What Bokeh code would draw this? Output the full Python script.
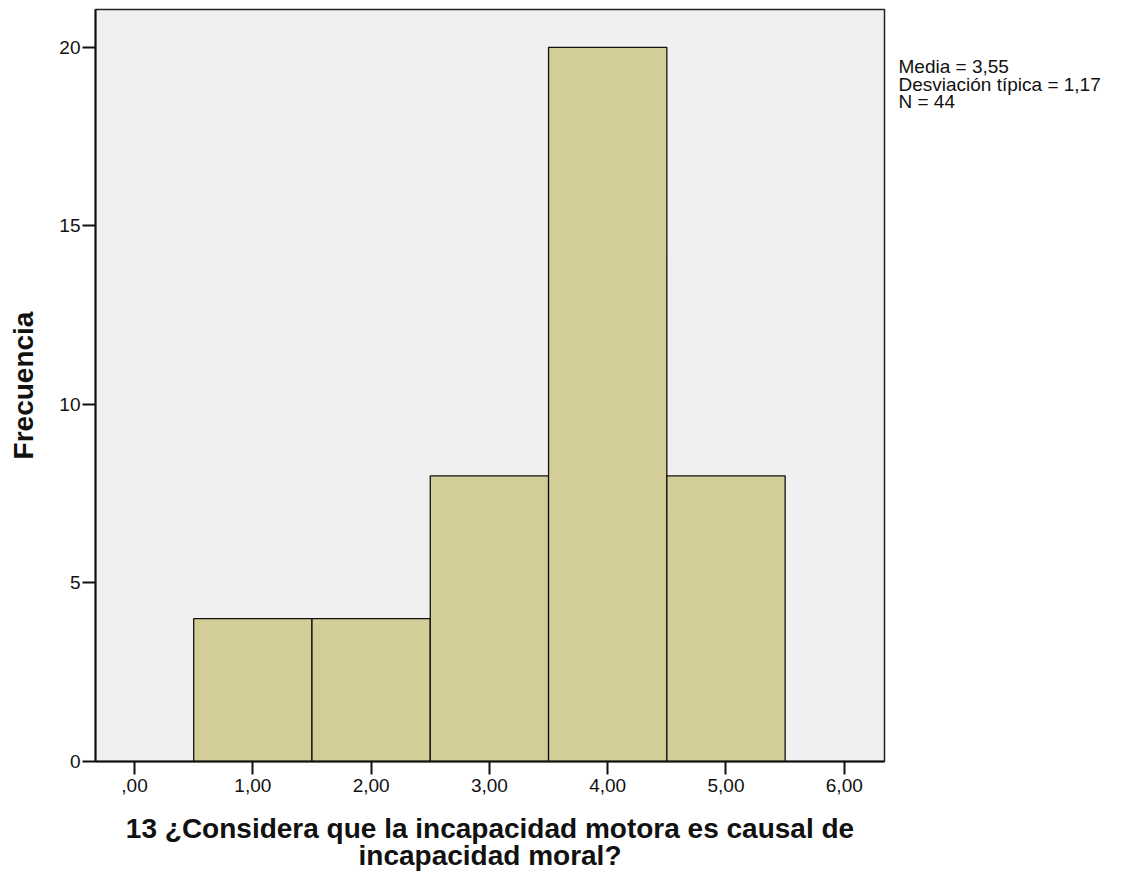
from bokeh.plotting import figure
from bokeh.layouts import row
from bokeh.models import Range1d, FixedTicker, Label, ColumnDataSource
from bokeh.embed import file_html
from bokeh.resources import INLINE

# ---- data ----
categories = [1, 2, 3, 4, 5]
counts = [4, 4, 8, 20, 8]
x_ticks = [0, 1, 2, 3, 4, 5, 6]
x_tick_labels = [",00", "1,00", "2,00", "3,00", "4,00", "5,00", "6,00"]
y_ticks = [0, 5, 10, 15, 20]
stats_lines = ["Media = 3,55", "Desviación típica = 1,17", "N = 44"]
x_label_lines = ["13 ¿Considera que la incapacidad motora es causal de", "incapacidad moral?"]
y_label = "Frecuencia"

FONT = "Liberation Sans"
INK = "#111111"
H = 875

src = ColumnDataSource(dict(
    left=[c - 0.5 for c in categories],
    right=[c + 0.5 for c in categories],
    top=counts,
    bottom=[0] * len(counts),
))

p = figure(width=890, height=H, output_backend="svg", toolbar_location=None,
           x_range=Range1d(-0.33, 6.34), y_range=Range1d(0, 21.06),
           min_border_left=95, min_border_right=6, min_border_top=9,
           min_border_bottom=H - 761)

p.background_fill_color = "#F0F0F0"
p.border_fill_color = "white"
p.grid.visible = False
p.outline_line_color = "#222222"
p.outline_line_width = 1.5

p.quad(left="left", right="right", top="top", bottom="bottom", source=src,
       fill_color="#D3CE98", line_color=INK, line_width=1.3)

for ax in (p.xaxis[0], p.yaxis[0]):
    ax.axis_line_color = INK
    ax.axis_line_width = 2
    ax.major_tick_line_color = INK
    ax.major_tick_line_width = 2
    ax.major_tick_in = 0
    ax.major_tick_out = 13
    ax.minor_tick_line_color = None
    ax.major_label_text_font = FONT
    ax.major_label_text_font_size = "19px"
    ax.major_label_text_color = INK
    ax.axis_label_text_font = FONT
    ax.axis_label_text_font_style = "bold"
    ax.axis_label_text_color = INK

p.xaxis.ticker = FixedTicker(ticks=x_ticks)
p.xaxis.major_label_overrides = {t: lab for t, lab in zip(x_ticks, x_tick_labels)}
p.xaxis.major_label_standoff = 4
p.xaxis.axis_label = "\n".join(x_label_lines)
p.xaxis.axis_label_text_font_size = "28px"
p.xaxis.axis_label_text_line_height = 0.9
p.xaxis.axis_label_standoff = 18

p.yaxis.ticker = FixedTicker(ticks=y_ticks)
p.yaxis.major_label_overrides = {t: str(t) for t in y_ticks}
p.yaxis.major_label_standoff = 2
p.yaxis.axis_label = y_label
p.yaxis.axis_label_text_font_size = "28px"
p.yaxis.axis_label_standoff = 17

# side panel holding the statistics text
s = figure(width=216, height=H, output_backend="svg", toolbar_location=None,
           x_axis_type=None, y_axis_type=None,
           x_range=Range1d(0, 216), y_range=Range1d(H, 0),
           min_border_left=0, min_border_right=0, min_border_top=0,
           min_border_bottom=0)
s.outline_line_color = None
s.grid.visible = False
s.background_fill_color = "white"
s.border_fill_color = "white"
for i, line in enumerate(stats_lines):
    s.add_layout(Label(x=8, y=66.7 + i * 20, text=line, text_font=FONT,
                       text_font_size="19px", text_color=INK,
                       text_align="left", text_baseline="alphabetic"))

layout = row(p, s)
open("out.html", "w").write(file_html(layout, INLINE))
